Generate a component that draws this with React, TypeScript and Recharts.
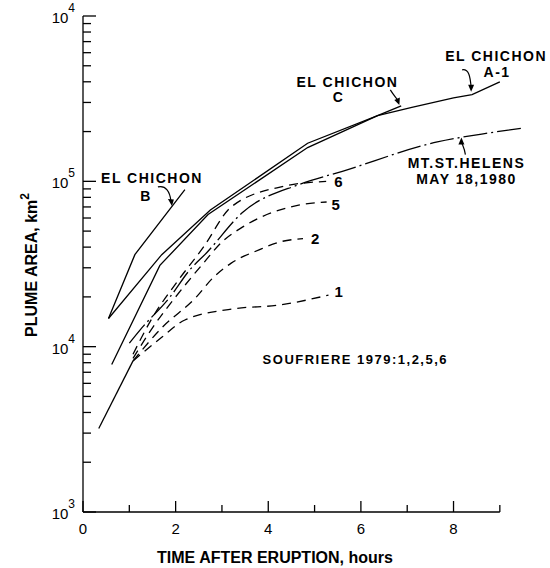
import { LineChart, Line, XAxis, YAxis, ReferenceLine, ReferenceDot } from "recharts";

// El Chichon curves (hours, km^2)
const chichonBTimes = [0.55, 1.12, 2.2];
const chichonBArea = [14800, 36000, 89000];

const chichonA1Times = [0.55, 1.7, 2.75, 4.85, 6.36, 7.1, 8.0, 8.4, 9.0];
const chichonA1Area = [14800, 36000, 67000, 170000, 250000, 280000, 320000, 335000, 400000];

const chichonCTimes = [0.62, 1.66, 2.7, 4.85, 6.36, 6.87];
const chichonCArea = [7800, 31000, 63000, 160000, 250000, 286000];

// common lead-in of the Soufriere curves
const leadTimes = [0.34, 1.08];
const leadArea = [3200, 8200];

// Soufriere 1979 eruptions 1, 2, 5, 6
const souf1Times = [1.08, 1.7, 2.2, 3.3, 4.2, 5.3];
const souf1Area = [8200, 11400, 14500, 17000, 17800, 20500];

const souf2Times = [1.08, 1.7, 2.45, 2.8, 3.2, 3.8, 4.25, 4.75];
const souf2Area = [8200, 13000, 20000, 26000, 32000, 38500, 43000, 45000];

const souf5Times = [1.08, 1.5, 2.0, 2.6, 3.0, 3.45, 4.68, 5.26];
const souf5Area = [8500, 13000, 20000, 32000, 43000, 53000, 72000, 75000];

const souf6Times = [1.08, 1.5, 2.0, 2.6, 3.2, 4.3, 5.25];
const souf6Area = [9000, 15000, 24000, 40000, 70000, 93000, 100000];

// Mt. St. Helens, May 18 1980
const helensTimes = [1.0, 1.23, 1.88, 2.3, 2.67, 3.45, 4.68, 5.6, 7.65, 8.7, 9.5];
const helensArea = [10500, 12600, 20000, 29000, 37000, 65000, 96000, 115000, 173000, 195000, 210000];

const xTicks = [0, 1, 2, 3, 4, 5, 6, 7, 8, 9];
const yDecades = [1000, 10000, 100000, 1000000];
const yDecadeExps = ["3", "4", "5", "4"];

const font = "'Liberation Sans', Arial, Helvetica, sans-serif";

const zip = (t: number[], a: number[]) => t.map((x, i) => ({ t: x, area: a[i] }));

const yTicks: number[] = [];
yDecades.forEach((d, i) => {
  yTicks.push(d);
  if (i < yDecades.length - 1) for (let m = 2; m <= 9; m++) yTicks.push(d * m);
});

const XTick = ({ x, y, payload }: any) => {
  const major = payload.value % 2 === 0;
  return (
    <g>
      <line x1={x} x2={x} y1={y} y2={y - (major ? 11 : 7)} stroke="#000" strokeWidth={1.3} />
      {major && (
        <text x={x} y={y + 22} textAnchor="middle" fontSize={15} fontFamily={font} fill="#000">
          {payload.value}
        </text>
      )}
    </g>
  );
};

const YTick = ({ x, y, payload }: any) => {
  const idx = yDecades.indexOf(payload.value);
  const major = idx >= 0;
  return (
    <g>
      <line x1={x} x2={x + (major ? 13 : 8)} y1={y} y2={y} stroke="#000" strokeWidth={1.3} />
      {major && (
        <text x={x - 8} y={y + 7} textAnchor="end" fontSize={15} fontFamily={font} fill="#000">
          10
          <tspan dy={-11} fontSize={12}>
            {yDecadeExps[idx]}
          </tspan>
        </text>
      )}
    </g>
  );
};

const noteStyle = { fontSize: 14, fontWeight: 700, fontFamily: font, letterSpacing: 1.5 };

const note = (lines: { text: string; dx: number; dy: number }[], size = 14) => (props: any) => (
  <g>
    {lines.map((l) => (
      <text
        key={l.text}
        x={props.cx + l.dx}
        y={props.cy + l.dy}
        textAnchor="middle"
        fill="#000"
        {...noteStyle}
        fontSize={size}
      >
        {l.text}
      </text>
    ))}
  </g>
);

// leader arrow: tail offset from the tip, curve control point, head direction
const arrow = (path: string, head: string) => (props: any) => (
  <g transform={`translate(${props.cx},${props.cy})`}>
    <path d={path} fill="none" stroke="#000" strokeWidth={1.2} />
    <polygon points={head} fill="#000" />
  </g>
);

const endLabel = (txt: string, dx: number, dy: number) => (props: any) => {
  const { x, y, index } = props;
  if (index !== props.dataLength - 1 && !props.last) return null;
  return (
    <text x={x + dx} y={y + dy} fontSize={15} fontWeight={700} fontFamily={font} fill="#000">
      {txt}
    </text>
  );
};

const lastOnly = (n: number, txt: string, dx: number, dy: number) => (props: any) =>
  props.index === n - 1 ? endLabel(txt, dx, dy)({ ...props, last: true }) : null;

export default function App() {
  const stroke = { stroke: "#000", strokeWidth: 1.3, dot: false, isAnimationActive: false } as const;
  return (
    <div style={{ position: "absolute", left: 0, top: 0, background: "#fff" }}>
      <LineChart width={550} height={568} margin={{ top: 16, right: 27, bottom: 0, left: 0 }}>
        <XAxis
          type="number"
          dataKey="t"
          domain={[0, 9.5]}
          ticks={xTicks}
          interval={0}
          axisLine={false}
          tickLine={false}
          tickSize={0}
          tickMargin={0}
          height={56}
          tick={<XTick />}
          label={{
            content: () => (
              <text x={275} y={563} textAnchor="middle" fontSize={16} fontWeight={700} fontFamily={font} fill="#000">
                TIME AFTER ERUPTION, hours
              </text>
            ),
          }}
        />
        <YAxis
          type="number"
          scale="log"
          domain={[1000, 1000000]}
          allowDataOverflow
          ticks={yTicks}
          interval={0}
          width={83}
          axisLine={{ stroke: "#000", strokeWidth: 1.3 }}
          tickLine={false}
          tickSize={0}
          tickMargin={0}
          tick={<YTick />}
          label={{
            content: () => (
              <text
                transform="rotate(-90)"
                x={-265}
                y={37}
                textAnchor="middle"
                fontSize={16}
                fontWeight={700}
                fontFamily={font}
                fill="#000"
              >
                PLUME AREA, km
                <tspan dy={-8} fontSize={12}>
                  2
                </tspan>
              </text>
            ),
          }}
        />
        <ReferenceLine
          segment={[
            { x: 0, y: 1000 },
            { x: 9, y: 1000 },
          ]}
          stroke="#000"
          strokeWidth={1.3}
          ifOverflow="visible"
        />

        <Line data={zip(chichonBTimes, chichonBArea)} dataKey="area" type="linear" {...stroke} />
        <Line data={zip(chichonA1Times, chichonA1Area)} dataKey="area" type="linear" {...stroke} />
        <Line data={zip(chichonCTimes, chichonCArea)} dataKey="area" type="linear" {...stroke} />
        <Line data={zip(leadTimes, leadArea)} dataKey="area" type="linear" {...stroke} />

        <Line
          data={zip(souf1Times, souf1Area)}
          dataKey="area"
          type="monotone"
          strokeDasharray="9 6"
          label={lastOnly(souf1Times.length, "1", 6, 2)}
          {...stroke}
        />
        <Line
          data={zip(souf2Times, souf2Area)}
          dataKey="area"
          type="monotone"
          strokeDasharray="9 6"
          label={lastOnly(souf2Times.length, "2", 8, 5)}
          {...stroke}
        />
        <Line
          data={zip(souf5Times, souf5Area)}
          dataKey="area"
          type="monotone"
          strokeDasharray="9 6"
          label={lastOnly(souf5Times.length, "5", 5, 8)}
          {...stroke}
        />
        <Line
          data={zip(souf6Times, souf6Area)}
          dataKey="area"
          type="monotone"
          strokeDasharray="9 6"
          label={lastOnly(souf6Times.length, "6", 8, 6)}
          {...stroke}
        />
        <Line
          data={zip(helensTimes, helensArea)}
          dataKey="area"
          type="monotone"
          strokeDasharray="24 4 2 4"
          {...stroke}
        />

        <ReferenceDot
          x={1.49}
          y={98000}
          r={1}
          shape={note([
            { text: "EL CHICHON", dx: 0, dy: 0 },
            { text: "B", dx: -6, dy: 18 },
          ])}
        />
        <ReferenceDot x={1.92} y={71000} r={1} shape={arrow("M -14 -19 C -6 -21 -2 -14 -1 -5", "0,0 -4,-7 2,-6.5")} />

        <ReferenceDot
          x={5.71}
          y={372000}
          r={1}
          shape={note([
            { text: "EL CHICHON", dx: 0, dy: 0 },
            { text: "C", dx: -9, dy: 15 },
          ])}
        />
        <ReferenceDot x={6.83} y={290000} r={1} shape={arrow("M -9 -15 C -6 -10 -3 -7 -1 -4", "0,0 -5,-5 0.5,-7.5")} />

        <ReferenceDot
          x={8.92}
          y={535000}
          r={1}
          shape={note([
            { text: "EL CHICHON", dx: 0, dy: 0 },
            { text: "A-1", dx: 1, dy: 16 },
          ])}
        />
        <ReferenceDot x={8.38} y={348000} r={1} shape={arrow("M -9 -22 C -2 -23 -1 -15 0 -5", "0,0 -3,-7 3,-7")} />

        <ReferenceDot
          x={8.28}
          y={120000}
          r={1}
          shape={note([
            { text: "MT.ST.HELENS", dx: 0, dy: 0 },
            { text: "MAY 18,1980", dx: 0, dy: 16 },
          ])}
        />
        <ReferenceDot x={8.17} y={184000} r={1} shape={arrow("M 4 17 C 3 10 1 8 0 4", "0,0 -3,7 3,7")} />

        <ReferenceDot
          x={5.88}
          y={7850}
          r={1}
          shape={note([{ text: "SOUFRIERE 1979:1,2,5,6", dx: 0, dy: 0 }], 13)}
        />
      </LineChart>
    </div>
  );
}
